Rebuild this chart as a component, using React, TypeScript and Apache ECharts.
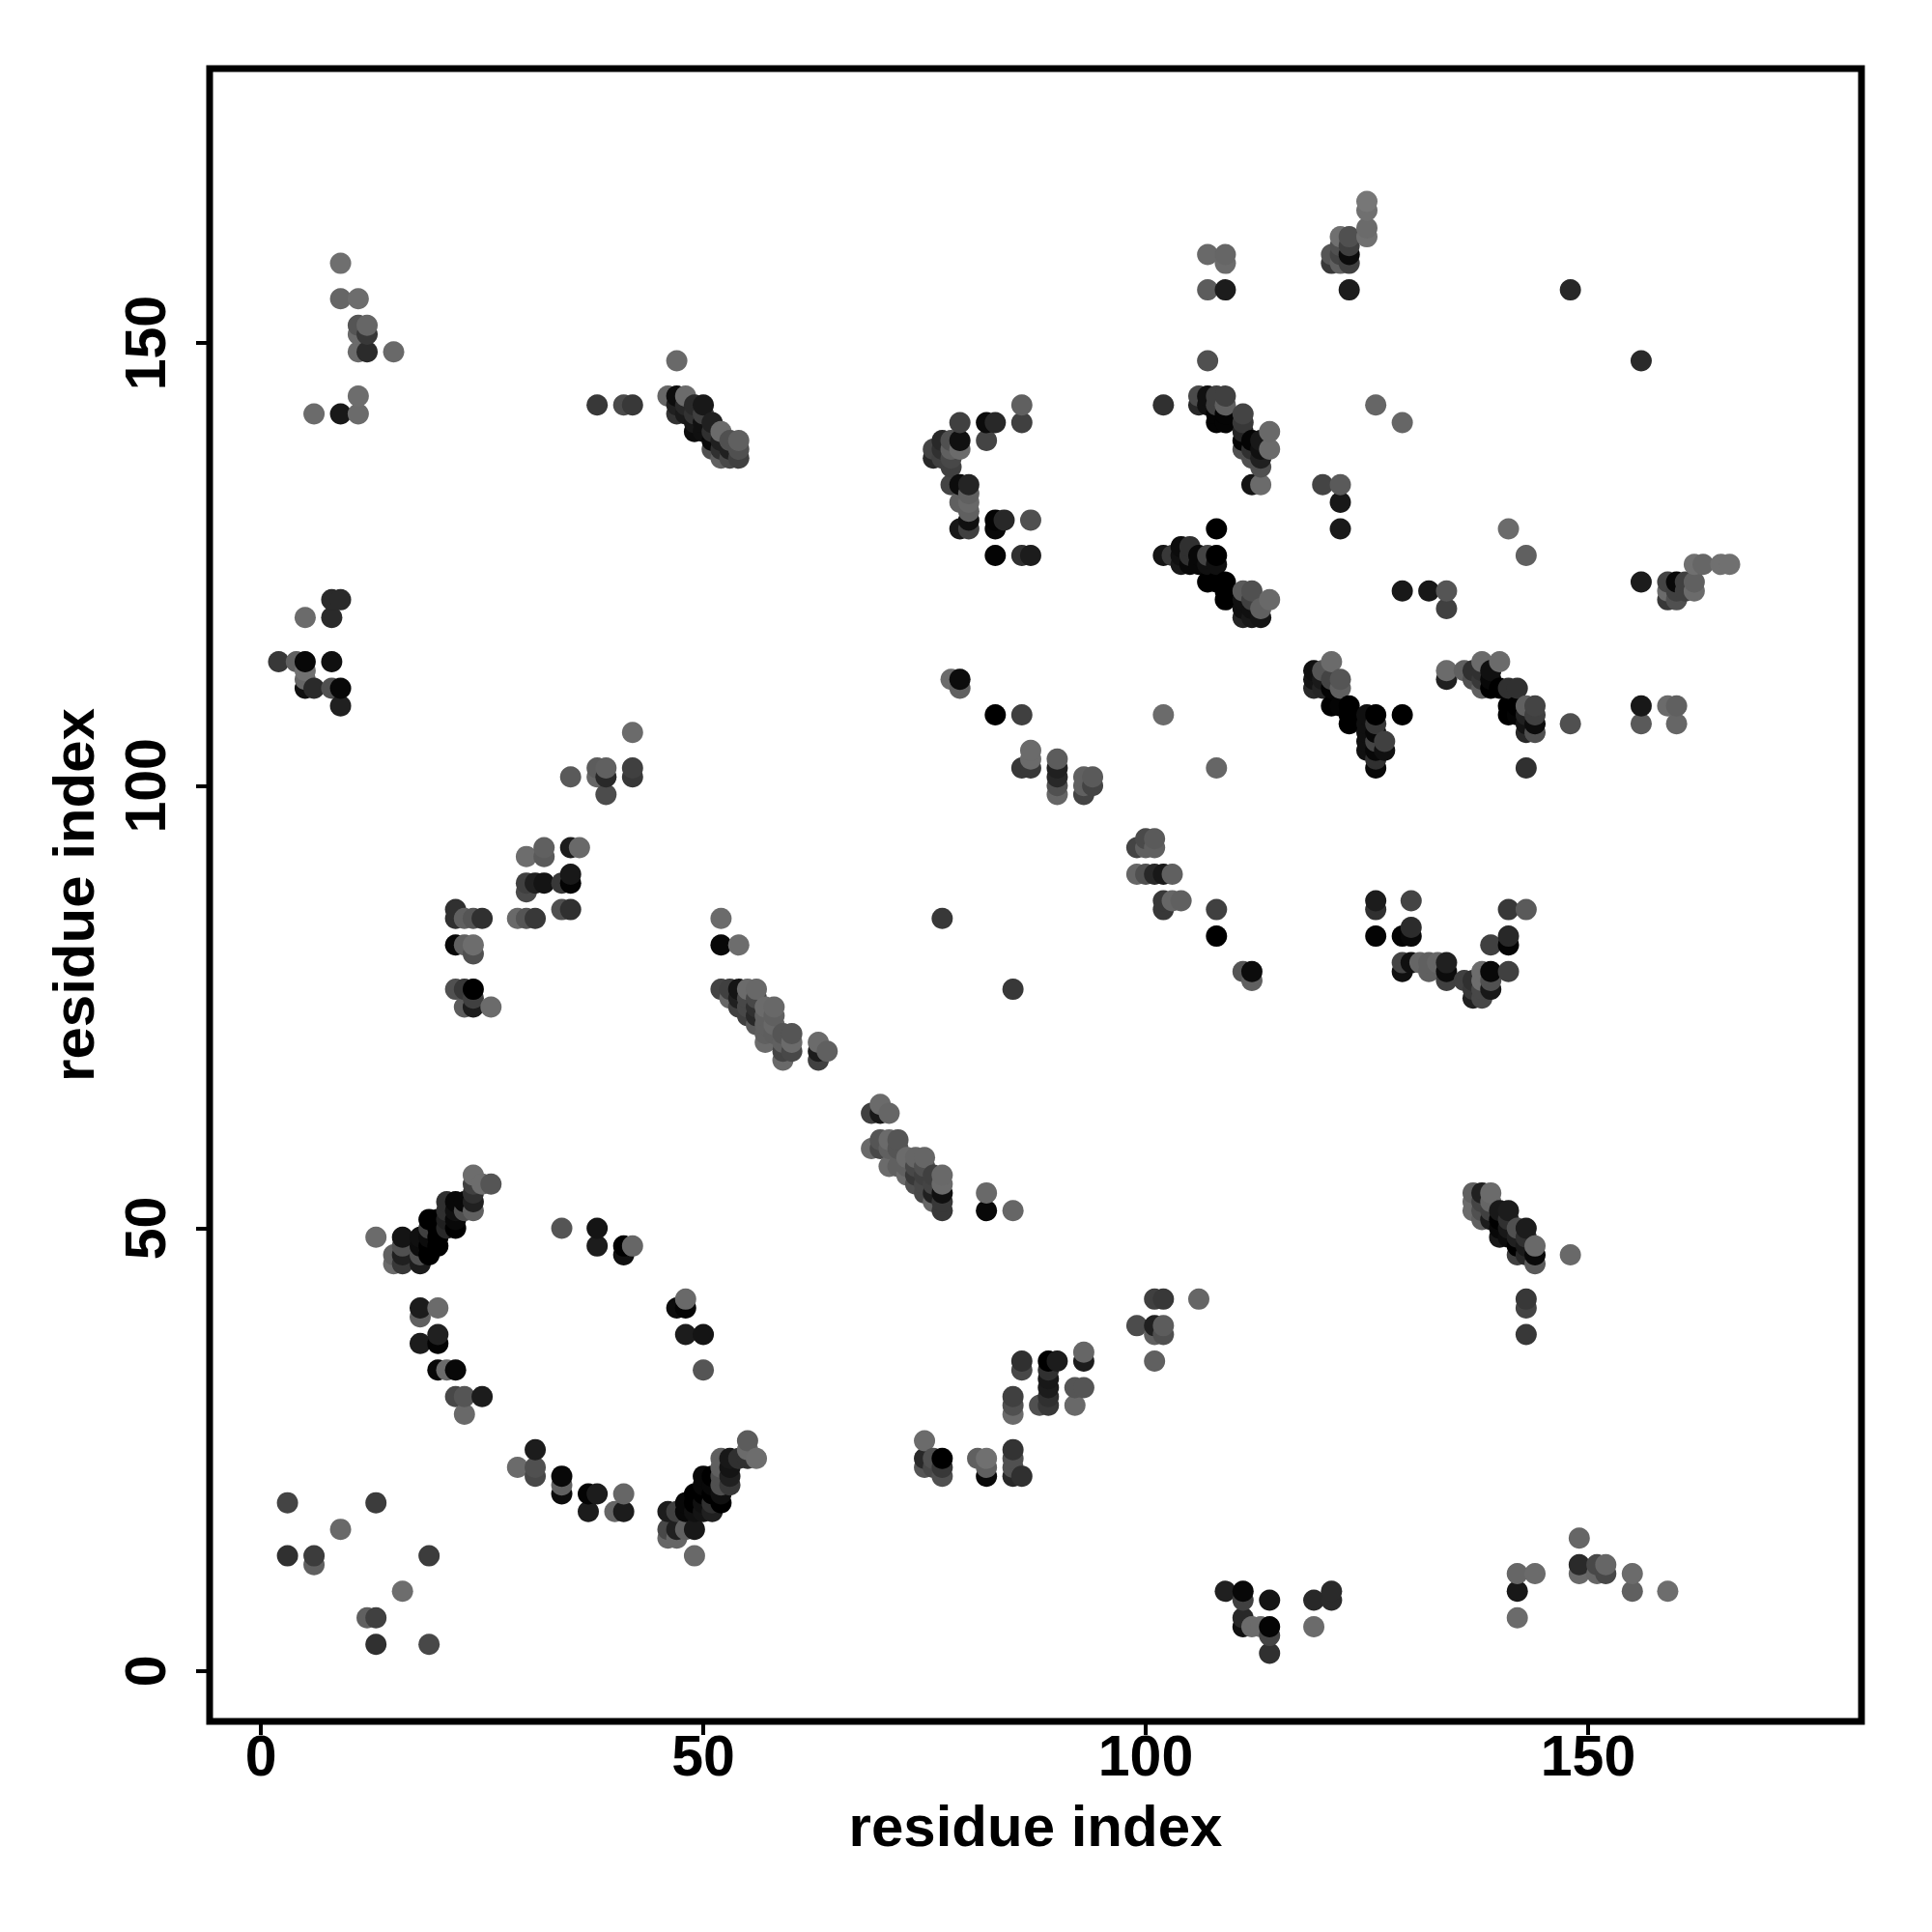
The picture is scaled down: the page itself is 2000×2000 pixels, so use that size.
import React, { useEffect, useRef } from "react";
import * as echarts from "echarts";

// Each entry: [residue x, residue y, grey level 0-255]
const topLeft = [
  [9,159,0x6f],[9,155,0x66],[11,155,0x6d],[11,152,0x55],[12,152,0x66],[11,151,0x6b],[12,151,0x38],[11,149,0x6b],[12,149,0x2b],[15,149,0x69],
  [11,144,0x6d],[6,142,0x6b],[9,142,0x18],[11,142,0x6b],[38,143,0x38],[41,143,0x4a],[42,143,0x38],[47,148,0x69],
];
const helixA = [
  [46,144,0x66],[47,144,0x0c],[47,143,0x20],[47,142,0x33],[48,144,0x6b],[48,143,0x28],[48,142,0x1a],[49,143,0x2a],[49,142,0x33],[49,141,0x18],[49,140,0x0c],
  [50,143,0x18],[50,142,0x40],[50,141,0x10],[50,140,0x10],[51,141,0x20],[51,140,0x30],[51,139,0x08],[51,138,0x50],[52,140,0x6b],[52,139,0x20],[52,138,0x30],[52,137,0x60],
  [53,139,0x50],[53,138,0x20],[53,137,0x48],[54,139,0x60],[54,138,0x50],[54,137,0x40],
];
const upperMid = [
  [86,143,0x60],[86,141,0x40],[79,141,0x40],[82,141,0x0c],[83,141,0x28],[82,139,0x44],[79,139,0x10],[77,139,0x28],[78,139,0x50],
  [76,138,0x44],[79,138,0x6b],[78,138,0x60],[77,138,0x30],[76,137,0x28],[77,137,0x40],[78,137,0x48],[78,136,0x40],
  [78,134,0x44],[79,134,0x0c],[80,134,0x24],[79,132,0x60],[80,133,0x60],[80,132,0x68],[80,131,0x60],[80,130,0x10],[80,129,0x40],[79,129,0x18],
  [83,130,0x04],[84,130,0x28],[83,129,0x08],[87,130,0x50],[83,126,0x04],[86,126,0x30],[87,126,0x1c],
];
const upperRightA = [
  [102,143,0x30],[107,148,0x50],[107,160,0x69],[109,160,0x66],[109,159,0x6b],[107,156,0x5c],[109,156,0x1c],
  [106,144,0x4a],[106,143,0x28],[107,144,0x10],[107,143,0x10],[108,144,0x40],[109,144,0x40],[108,143,0x40],[109,143,0x60],[108,142,0x04],[109,142,0x04],[108,141,0x04],[109,141,0x04],
  [111,142,0x44],[111,141,0x38],[111,140,0x24],[111,139,0x04],[112,139,0x04],[113,139,0x18],[114,140,0x69],[114,138,0x6b],[111,138,0x50],[112,138,0x30],[113,138,0x10],
  [112,137,0x50],[113,137,0x20],[113,136,0x50],[113,134,0x6b],[112,134,0x14],[120,134,0x44],[122,134,0x5a],[122,132,0x18],[122,129,0x1a],
];
const upperRightB = [
  [108,129,0x00],[102,126,0x14],[103,126,0x38],[104,127,0x0c],[105,127,0x30],[104,126,0x10],[105,126,0x30],[104,125,0x18],[105,125,0x08],[106,126,0x08],[106,125,0x08],[107,126,0x44],[107,125,0x10],[108,126,0x00],[108,125,0x10],
  [107,123,0x00],[108,123,0x00],[109,123,0x00],[109,122,0x00],[109,121,0x00],[111,122,0x5a],[112,122,0x50],[112,121,0x40],[113,120,0x60],[114,121,0x69],[111,121,0x10],[111,120,0x10],[112,120,0x10],[111,119,0x24],[112,119,0x18],[113,119,0x14],
];
const farTopRight = [
  [125,166,0x77],[125,165,0x70],[125,163,0x6b],[125,162,0x70],[121,160,0x55],[121,159,0x38],[122,162,0x70],[123,162,0x50],[122,161,0x50],[123,161,0x40],[122,160,0x44],[123,160,0x0c],[122,159,0x60],[123,159,0x40],[123,156,0x1c],
  [148,156,0x28],[156,148,0x2a],[126,143,0x66],[129,141,0x66],[141,129,0x6b],[143,126,0x60],[129,122,0x18],[132,122,0x18],[134,122,0x55],[134,120,0x40],[156,123,0x1c],
  [159,123,0x44],[159,122,0x6b],[159,121,0x38],[160,123,0x08],[160,122,0x40],[160,121,0x50],[161,123,0x40],[161,122,0x40],[162,123,0x60],[162,122,0x6b],[162,125,0x70],[163,125,0x66],[165,125,0x70],[166,125,0x70],
];
const leftMid = [
  [8,121,0x2a],[9,121,0x2a],[5,119,0x6b],[8,119,0x2a],[2,114,0x38],[4,114,0x60],[5,114,0x08],[8,114,0x10],[5,113,0x70],[5,112,0x66],[5,111,0x10],[6,111,0x2a],[8,111,0x50],[9,111,0x08],[9,109,0x20],
  [42,106,0x6b],[35,101,0x5a],[38,102,0x5c],[39,102,0x60],[38,101,0x66],[39,101,0x28],[39,99,0x4c],[42,102,0x40],[42,101,0x38],
  [32,93,0x60],[32,92,0x5a],[30,92,0x6d],[35,93,0x1c],[36,93,0x69],[35,90,0x18],[35,89,0x04],[34,89,0x38],[30,89,0x40],[31,89,0x20],[32,89,0x14],[30,88,0x4a],[34,86,0x50],[35,86,0x30],
  [22,86,0x30],[22,85,0x30],[23,85,0x60],[24,85,0x55],[25,85,0x30],[29,85,0x69],[30,85,0x55],[31,85,0x38],[22,82,0x08],[23,82,0x60],[24,82,0x6d],[24,81,0x50],
  [22,77,0x50],[23,77,0x38],[24,77,0x00],[24,76,0x40],[23,75,0x5c],[24,75,0x1c],[26,75,0x6b],
];
const helixB = [
  [52,85,0x6b],[52,82,0x08],[54,82,0x6d],[77,85,0x38],[85,77,0x38],
  [52,77,0x44],[53,77,0x40],[53,76,0x66],[54,77,0x14],[55,77,0x6b],[56,77,0x68],[54,76,0x20],[54,75,0x40],[55,76,0x48],[55,75,0x48],[55,74,0x40],[56,76,0x48],[56,75,0x30],[56,74,0x28],[56,73,0x5a],
  [57,75,0x6b],[58,75,0x68],[57,74,0x60],[58,74,0x60],[57,73,0x60],[57,72,0x60],[57,71,0x6b],[58,73,0x68],[58,72,0x5e],[59,72,0x55],[60,72,0x55],[59,71,0x60],[60,71,0x6b],[59,70,0x44],[60,70,0x48],[59,69,0x69],
  [63,71,0x6b],[64,70,0x60],[63,70,0x1c],[63,69,0x40],
];
const helixC = [
  [69,63,0x40],[70,64,0x6b],[70,63,0x18],[71,63,0x66],[70,60,0x55],[71,60,0x6b],[72,60,0x55],[69,59,0x69],[70,59,0x48],[71,59,0x60],[72,59,0x55],[73,58,0x6b],[74,58,0x66],[75,58,0x66],
  [71,57,0x6b],[72,57,0x60],[73,57,0x60],[74,57,0x48],[75,57,0x50],[73,56,0x6b],[74,56,0x38],[75,56,0x40],[76,56,0x40],[74,55,0x50],[75,55,0x48],[76,55,0x44],[77,56,0x69],[77,55,0x6b],[77,54,0x10],[75,54,0x48],[76,54,0x20],[76,53,0x66],[77,53,0x38],[77,52,0x38],
  [82,54,0x69],[82,52,0x08],[85,52,0x66],
];
const rightMidTop = [
  [78,112,0x6b],[79,112,0x0c],[79,111,0x60],
  [83,108,0x00],[86,108,0x40],[102,108,0x6b],[108,102,0x66],[87,104,0x6b],[87,103,0x6b],[86,102,0x38],[87,102,0x38],[90,103,0x5c],[90,102,0x20],[90,101,0x28],[90,100,0x50],[90,99,0x66],
  [93,101,0x60],[94,101,0x5a],[93,100,0x60],[94,100,0x44],[93,99,0x44],[99,93,0x44],[100,94,0x4a],[101,94,0x5a],[100,93,0x60],[101,93,0x60],[99,90,0x66],[100,90,0x50],[101,90,0x28],[102,90,0x18],[103,90,0x60],
  [102,87,0x38],[103,87,0x66],[104,87,0x60],[102,86,0x38],[108,86,0x40],[108,83,0x00],[111,79,0x55],[112,79,0x0c],[112,78,0x60],
];
const sheetRight = [
  [121,114,0x6b],[120,113,0x55],[119,113,0x10],[119,112,0x14],[119,111,0x28],[120,112,0x1a],[120,111,0x24],[121,112,0x44],[122,112,0x55],[122,111,0x60],[121,111,0x04],
  [121,109,0x00],[122,109,0x04],[123,109,0x00],[123,108,0x00],[123,107,0x00],[125,108,0x10],[126,108,0x00],[126,107,0x38],[125,107,0x10],[125,106,0x10],[125,105,0x10],[126,106,0x08],[126,105,0x44],[127,105,0x40],[127,104,0x10],[125,104,0x10],[126,104,0x08],[126,103,0x30],[126,102,0x08],[129,108,0x00],
  [134,113,0x6b],[134,112,0x20],[136,113,0x60],[137,113,0x30],[138,114,0x6b],[140,114,0x6b],[139,113,0x10],[139,112,0x08],[139,111,0x00],[140,111,0x00],[137,112,0x50],[138,112,0x38],[138,111,0x60],[138,113,0x30],[141,111,0x30],[142,111,0x30],
  [141,109,0x00],[141,108,0x00],[142,109,0x00],[142,108,0x04],[143,109,0x60],[144,109,0x44],[144,108,0x40],[144,107,0x0c],[143,107,0x14],[143,106,0x28],[144,106,0x50],[143,108,0x20],[143,102,0x30],[148,107,0x50],
  [156,109,0x18],[156,107,0x5a],[159,109,0x6b],[160,109,0x60],[160,107,0x66],
];
const uShape = [
  [126,87,0x1c],[126,86,0x30],[130,87,0x44],[126,83,0x04],[129,83,0x04],[130,83,0x08],[130,84,0x2c],[129,80,0x44],[130,80,0x10],[131,80,0x66],[132,80,0x60],[133,80,0x66],[134,80,0x20],
  [129,79,0x10],[132,79,0x60],[134,79,0x0c],[134,78,0x40],[136,78,0x40],[137,78,0x30],[137,77,0x38],[138,79,0x6d],[138,78,0x6d],[139,79,0x08],[139,78,0x50],[141,79,0x40],[139,77,0x18],[138,77,0x48],[137,76,0x20],[138,76,0x48],
  [141,86,0x38],[143,86,0x5a],[141,83,0x28],[141,82,0x04],[139,82,0x40],
];
const helixD = [
  [137,54,0x60],[138,54,0x20],[139,54,0x6b],[137,53,0x6b],[138,53,0x44],[139,53,0x66],[137,52,0x6b],[138,52,0x50],[139,52,0x40],[140,52,0x18],[141,52,0x1c],[138,51,0x60],[139,51,0x1c],[140,51,0x00],[141,51,0x30],
  [140,50,0x08],[141,50,0x18],[142,50,0x50],[143,50,0x1c],[140,49,0x18],[141,49,0x0c],[142,49,0x20],[143,49,0x30],[142,48,0x00],[143,48,0x1a],[144,48,0x69],[142,47,0x40],[143,47,0x28],[144,47,0x08],[144,46,0x5a],
  [148,47,0x69],[143,42,0x38],[143,41,0x44],[143,38,0x38],
];
const lowerLeftHelix = [
  [24,56,0x6d],[25,55,0x6d],[26,55,0x55],[24,55,0x40],[24,54,0x30],[24,53,0x20],[24,52,0x60],[23,53,0x08],[23,52,0x50],[22,53,0x08],[22,52,0x10],[21,53,0x30],[21,52,0x30],[22,51,0x08],[22,50,0x00],[21,51,0x20],
  [19,51,0x00],[20,51,0x00],[20,50,0x00],[21,50,0x28],[19,50,0x40],[19,49,0x0c],[20,49,0x00],[18,49,0x10],[19,48,0x00],[20,48,0x00],[18,48,0x0c],[18,47,0x50],[18,46,0x1c],[19,47,0x00],
  [16,49,0x14],[16,48,0x50],[16,47,0x20],[16,46,0x38],[15,47,0x60],[15,46,0x6b],[13,49,0x6b],
  [18,41,0x1c],[18,40,0x60],[20,41,0x6b],[18,37,0x1c],[20,38,0x20],[20,37,0x04],[20,34,0x08],[21,34,0x6b],[22,34,0x08],[22,31,0x48],[23,31,0x55],[25,31,0x1c],[23,29,0x69],
];
const ringBottom = [
  [29,23,0x6b],[31,25,0x1c],[31,23,0x50],[31,22,0x48],[34,22,0x08],[34,21,0x60],[34,20,0x0c],[37,20,0x04],[38,20,0x1c],[37,18,0x1c],[41,20,0x66],[41,18,0x1c],[40,18,0x66],
  [34,50,0x55],[38,50,0x14],[38,48,0x1c],[41,48,0x00],[41,47,0x10],[42,48,0x66],[48,42,0x69],[47,41,0x0c],[48,41,0x04],[48,38,0x1c],[50,38,0x14],[50,34,0x55],
];
const helixE = [
  [55,26,0x5c],[55,25,0x6b],[56,24,0x6d],[52,24,0x60],[53,24,0x18],[54,24,0x30],[55,24,0x30],[52,23,0x60],[53,23,0x14],[53,22,0x20],[53,21,0x38],[52,22,0x50],[52,21,0x50],[50,22,0x08],[51,22,0x00],[51,21,0x08],[50,21,0x08],
  [49,20,0x00],[50,20,0x00],[51,20,0x00],[52,20,0x10],[50,19,0x10],[51,19,0x30],[52,19,0x00],[49,19,0x00],[48,19,0x08],[46,18,0x1c],[47,18,0x40],[48,18,0x08],[49,18,0x10],[50,18,0x14],[51,18,0x20],
  [46,16,0x48],[47,16,0x20],[48,16,0x60],[49,16,0x18],[46,15,0x66],[47,15,0x66],[49,13,0x69],
];
const lowerMid = [
  [75,26,0x6b],[75,24,0x28],[75,23,0x55],[76,24,0x50],[76,23,0x48],[77,24,0x00],[77,23,0x38],[77,22,0x50],[81,24,0x60],[82,24,0x70],[82,23,0x60],[82,22,0x08],[85,25,0x33],[85,24,0x50],[85,23,0x50],[85,22,0x28],[86,22,0x30],
  [86,35,0x30],[86,34,0x48],[89,35,0x00],[89,34,0x30],[90,35,0x1c],[93,36,0x66],[93,35,0x1c],[85,31,0x40],[85,30,0x50],[85,29,0x6b],[89,33,0x18],[89,32,0x1c],[89,31,0x30],[89,30,0x38],[88,30,0x50],[92,32,0x55],[93,32,0x55],[92,30,0x69],
  [99,39,0x4c],[101,39,0x20],[102,39,0x5c],[101,38,0x60],[102,38,0x50],[101,42,0x40],[102,42,0x38],[106,42,0x66],[101,35,0x60],
];
const bottomRow = [
  [109,9,0x20],[111,9,0x08],[111,8,0x40],[114,8,0x14],[111,6,0x28],[111,5,0x10],[112,5,0x6b],[113,5,0x6b],[114,5,0x04],[114,4,0x44],[114,2,0x30],[119,8,0x28],[119,5,0x6b],[121,9,0x2a],[121,8,0x2a],
  [142,11,0x66],[144,11,0x6b],[142,9,0x18],[142,6,0x6b],[149,15,0x66],[149,12,0x2a],[149,11,0x69],[151,12,0x48],[151,11,0x66],[152,12,0x66],[152,11,0x48],[155,11,0x6b],[155,9,0x60],[159,9,0x6d],
];
const bottomLeft = [
  [3,19,0x44],[13,19,0x3c],[9,16,0x69],[3,13,0x30],[6,13,0x3c],[6,12,0x60],[19,13,0x3c],[16,9,0x6d],[12,6,0x60],[13,6,0x40],[13,3,0x30],[19,3,0x48],
];

const tickValues = [0, 50, 100, 150];
const axisTitle = "residue index";

const allPoints = [
  topLeft, helixA, upperMid, upperRightA, upperRightB, farTopRight, leftMid, helixB, helixC, rightMidTop,
  sheetRight, uShape, helixD, lowerLeftHelix, ringBottom, helixE, lowerMid, bottomRow, bottomLeft,
].flat().sort((a, b) => a[0] - b[0] || a[1] - b[1]);

const FONT = "Liberation Sans";

function axis(min: number, max: number, rotate: number, nameGap: number, margin: number) {
  return {
    type: "value",
    min,
    max,
    name: axisTitle,
    nameLocation: "middle",
    nameGap,
    nameTextStyle: { fontFamily: FONT, fontWeight: "bold", fontSize: 60, color: "#000" },
    splitLine: { show: false },
    axisLine: { show: false, onZero: false },
    axisTick: { show: true, length: 14, customValues: tickValues, lineStyle: { color: "#000", width: 4 } },
    axisLabel: {
      show: true,
      rotate,
      margin,
      customValues: tickValues,
      fontFamily: FONT,
      fontWeight: "bold",
      fontSize: 59,
      color: "#000",
      hideOverlap: false,
    },
  };
}

export default function App() {
  const ref = useRef<HTMLDivElement>(null);
  useEffect(() => {
    const chart = echarts.init(ref.current!, null, { renderer: "svg" });
    chart.setOption({
      animation: false,
      backgroundColor: "#fff",
      grid: { left: 217, right: 73, top: 71, bottom: 218, show: true, borderColor: "#000", borderWidth: 7, backgroundColor: "transparent" },
      xAxis: axis(-5.8, 180.9, 0, 78, 6),
      yAxis: { ...axis(-5.7, 181, 90, 111, 37), nameRotate: 90 },
      series: [
        {
          type: "scatter",
          symbol: "circle",
          symbolSize: 22,
          silent: true,
          data: allPoints.map((p) => {
            const g = p[2];
            return { value: [p[0], p[1]], itemStyle: { color: `rgb(${g},${g},${g})`, opacity: 1 } };
          }),
        },
      ],
    });
    return () => chart.dispose();
  }, []);
  return <div ref={ref} style={{ position: "absolute", left: 0, top: 0, width: 2000, height: 2000 }} />;
}
